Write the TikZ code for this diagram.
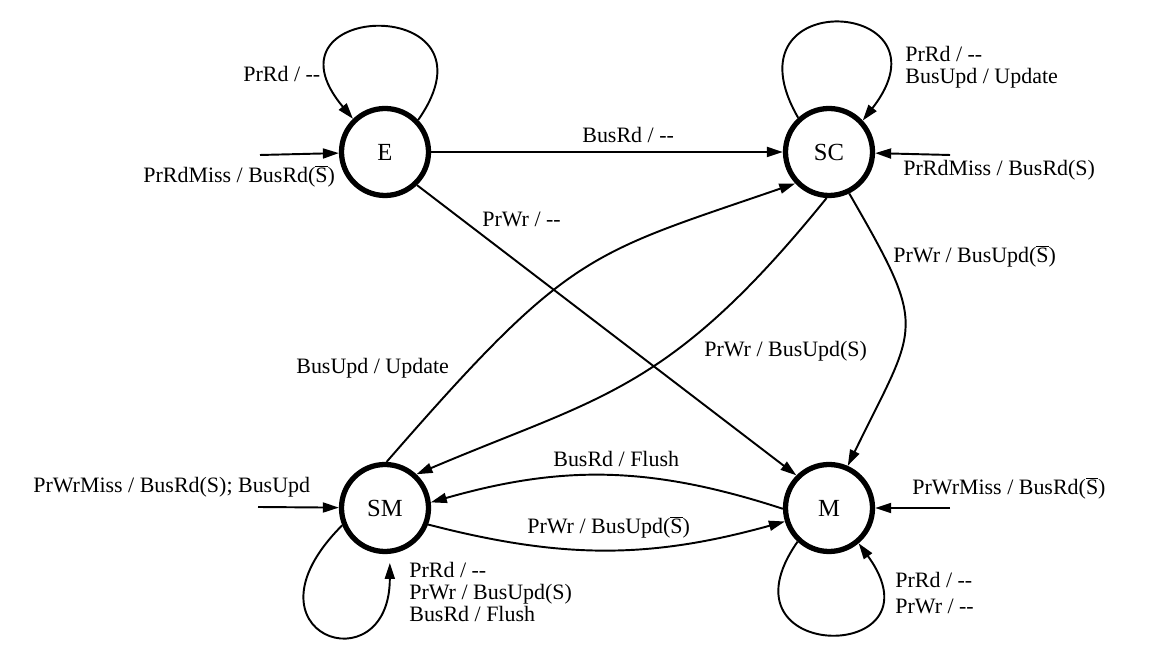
\documentclass[tikz,border=0pt]{standalone}
\usepackage{fontspec}
\setmainfont{Liberation Serif}
\usetikzlibrary{arrows.meta}
\newcommand{\nop}{-\kern0pt-}
\newcommand{\nS}{\(\overline{\hbox{S}}\)}
\newcommand{\lines}[1]{\begin{tabular}[t]{@{}l@{}}#1\end{tabular}}

\begin{document}
\begin{tikzpicture}[
  state/.style={circle,draw,line width=3pt,minimum size=1.74cm,inner sep=0pt,font=\fontsize{14}{16}\selectfont},
  trans/.style={line width=1.1pt,-{Triangle[length=0.32cm,width=0.2cm]}},
  lbl/.style={anchor=base west,inner sep=0pt,font=\fontsize{12.5}{12}\selectfont}]
\useasboundingbox (0,0) rectangle (23.36,13);
\node[state] (E) at (7.70,9.96) {E};
\node[state] (SC) at (16.58,9.96) {SC};
\node[state] (SM) at (7.70,2.84) {SM};
\node[state] (M) at (16.58,2.84) {M};
\coordinate (inE) at (5.20,9.90);
\coordinate (inSC) at (19.00,9.90);
\coordinate (inSM) at (5.16,2.86);
\coordinate (inM) at (19.00,2.84);
\draw[trans] (inE) -- (E);
\draw[trans] (inSC) -- (SC);
\draw[trans] (inSM) -- (SM);
\draw[trans] (inM) -- (M);
\draw[trans] (E.44) to[out=55,in=130,distance=3.1cm] (E.134);
\draw[trans] (SC.132) to[out=120,in=52,distance=3.1cm] (SC.43);
\draw[trans] (SM.202) to[out=225,in=-90,out distance=3.1cm,in distance=2.5cm] ([yshift=-0.18cm]SM.-84);
\draw[trans] (M.227) to[out=235,in=-54,distance=3cm] (M.-50);
\draw[trans] (E) -- (SC);
\draw[trans] (E.-46) -- (M.135);
\draw[trans] (SC.-64) to[out=-60,in=64,looseness=1.5] (M.66);
\draw[trans] (SC.-93) to[out=-129,in=23,out distance=5cm,in distance=4cm] (SM.47);
\draw[trans] (SM.88) to[out=49,in=-161,out distance=5.6cm,in distance=4.4cm] (SC.-137);
\draw[trans] (M.181) to[bend right=17] (SM.7);
\draw[trans] (SM.-21) to[bend right=15] (M.197);
\node[lbl] (lE) at (2.86,9.34) {PrRdMiss / BusRd(\nS)};
\node[lbl] (lEE) at (4.86,11.36) {PrRd / \nop};
\node[lbl] (lESC) at (11.64,10.14) {BusRd / \nop};
\node[lbl] (lEM) at (9.64,8.46) {PrWr / \nop};
\node[lbl] (lSCSC) at (18.10,11.76) {\lines{PrRd / \nop\\BusUpd / Update}};
\node[lbl] (lSC) at (18.06,9.48) {PrRdMiss / BusRd(S)};
\node[lbl] (lSCM) at (17.86,7.74) {PrWr / BusUpd(\nS)};
\node[lbl] (lSCSM) at (14.08,5.86) {PrWr / BusUpd(S)};
\node[lbl] (lSMSC) at (5.92,5.52) {BusUpd / Update};
\node[lbl] (lMSM) at (11.06,3.66) {BusRd / Flush};
\node[lbl] (lSMM) at (10.54,2.32) {PrWr / BusUpd(\nS)};
\node[lbl] (lSM) at (0.66,3.14) {PrWrMiss / BusRd(S); BusUpd};
\node[lbl] (lSMSM) at (8.18,1.44) {\lines{PrRd / \nop\\PrWr / BusUpd(S)\\BusRd / Flush}};
\node[lbl] (lM) at (18.24,3.10) {PrWrMiss / BusRd(\nS)};
\node[lbl] (lMM) at (17.90,1.24) {\lines{PrRd / \nop\\[0.08cm]PrWr / \nop}};
\end{tikzpicture}
\end{document}
